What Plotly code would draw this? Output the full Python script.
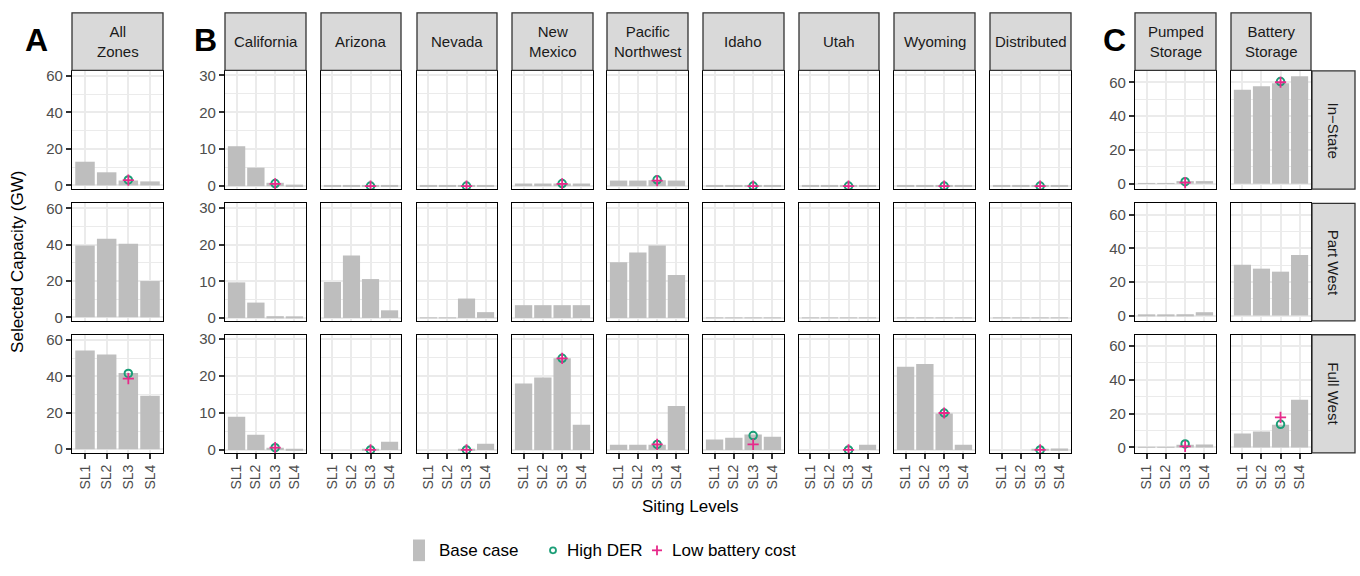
import plotly.graph_objects as go

# ---------------- data ----------------
levels = ["SL1", "SL2", "SL3", "SL4"]
panels = ["All Zones", "California", "Arizona", "Nevada", "New Mexico",
          "Pacific Northwest", "Idaho", "Utah", "Wyoming", "Distributed",
          "Pumped Storage", "Battery Storage"]
strip_labels = ["All<br>Zones", "California", "Arizona", "Nevada", "New<br>Mexico",
                "Pacific<br>Northwest", "Idaho", "Utah", "Wyoming", "Distributed",
                "Pumped<br>Storage", "Battery<br>Storage"]
row_labels = ["In−State", "Part West", "Full West"]
series_names = ["Base case", "High DER", "Low battery cost"]

instate_base = [
    [13.0, 7.2, 2.7, 2.2],
    [10.8, 5.0, 0.9, 0.4],
    [0.1, 0.1, 0.1, 0.1],
    [0.1, 0.1, 0.1, 0.1],
    [0.7, 0.7, 0.7, 0.7],
    [1.5, 1.5, 1.6, 1.5],
    [0.05, 0.05, 0.05, 0.05],
    [0.05, 0.05, 0.05, 0.05],
    [0.1, 0.1, 0.1, 0.1],
    [0.3, 0.3, 0.3, 0.3],
    [0.3, 0.3, 1.5, 1.5],
    [55.5, 57.7, 59.4, 63.5],
]
partwest_base = [
    [39.6, 43.3, 40.5, 20.0],
    [9.7, 4.2, 0.5, 0.3],
    [9.8, 17.0, 10.6, 2.1],
    [0.1, 0.1, 5.3, 1.6],
    [3.5, 3.5, 3.5, 3.5],
    [15.2, 17.8, 19.7, 11.7],
    [0.1, 0.1, 0.1, 0.1],
    [0.1, 0.1, 0.1, 0.1],
    [0.1, 0.1, 0.1, 0.1],
    [0.1, 0.1, 0.1, 0.1],
    [0.2, 0.2, 0.8, 2.0],
    [30.2, 27.9, 26.1, 36.0],
]
fullwest_base = [
    [54.2, 51.9, 41.8, 29.4],
    [9.0, 4.1, 0.6, 0.3],
    [0.0, 0.0, 0.1, 2.2],
    [0.0, 0.0, 0.1, 1.7],
    [18.0, 19.6, 24.8, 6.8],
    [1.4, 1.4, 1.4, 11.9],
    [2.8, 3.3, 4.2, 3.6],
    [0.0, 0.0, 0.0, 1.4],
    [22.5, 23.3, 9.9, 1.4],
    [0.0, 0.0, 0.3, 0.4],
    [0.2, 0.2, 1.6, 1.8],
    [8.2, 9.4, 13.5, 28.2],
]
instate_high_der = [3.0, 0.7, 0.0, 0.0, 0.7, 1.7, 0.0, 0.0, 0.0, 0.0, 1.2, 60.4]
instate_low_batt = [2.9, 0.6, 0.0, 0.0, 0.6, 1.5, 0.0, 0.0, 0.0, 0.0, 0.6, 60.0]
fullwest_high_der = [41.6, 0.6, 0.0, 0.0, 24.8, 1.5, 3.9, 0.0, 10.0, 0.0, 2.1, 13.7]
fullwest_low_batt = [38.7, 0.6, 0.0, 0.0, 24.8, 1.5, 1.5, 0.0, 10.0, 0.0, 0.6, 17.8]

base_rows = [instate_base, partwest_base, fullwest_base]
der_rows = [instate_high_der, None, fullwest_high_der]
batt_rows = [instate_low_batt, None, fullwest_low_batt]

# ---------------- layout geometry (pixels) ----------------
W, H = 1360, 576
col_px = [(72, 163), (225, 306), (321, 401), (417, 497), (512, 593), (607, 688),
          (703, 784), (799, 879), (894, 975), (990, 1071), (1135, 1216), (1231, 1311)]
row_px = [(68, 188), (202.5, 322), (336, 456)]
strip_y = (9, 67.5)
rstrip_x = (1312, 1355)

GRID = "#EBEBEB"
BAR = "#BEBEBE"
GREEN = "#1B9E77"
PINK = "#E7298A"
FONT = "Liberation Sans, Arial, sans-serif"
TICKC = "#4D4D4D"

def fx(p):
    return p / W

def fy(p):
    return 1 - p / H

fig = go.Figure()
layout = {}
label_cols = {0, 1, 10}

for r in range(3):
    for c in range(12):
        n = r * 12 + c + 1
        xa = "x" if n == 1 else f"x{n}"
        ya = "y" if n == 1 else f"y{n}"
        xk = "xaxis" if n == 1 else f"xaxis{n}"
        yk = "yaxis" if n == 1 else f"yaxis{n}"
        fig.add_trace(go.Bar(
            x=levels, y=base_rows[r][c], xaxis=xa, yaxis=ya,
            marker=dict(color=BAR, line=dict(width=0)), width=0.9,
            name=series_names[0], showlegend=False,
        ))
        if der_rows[r] is not None:
            fig.add_trace(go.Scatter(
                x=["SL3"], y=[der_rows[r][c]], xaxis=xa, yaxis=ya, mode="markers",
                marker=dict(symbol="circle-open", color=GREEN, size=7.5, line=dict(width=2, color=GREEN)),
                name=series_names[1], showlegend=False,
            ))
            fig.add_trace(go.Scatter(
                x=["SL3"], y=[batt_rows[r][c]], xaxis=xa, yaxis=ya, mode="markers",
                marker=dict(symbol="cross-thin-open", color=PINK, size=8, line=dict(width=1.8, color=PINK)),
                name=series_names[2], showlegend=False,
            ))
        x0, x1 = col_px[c]
        y0, y1 = row_px[r]
        bottom = (r == 2)
        layout[xk] = dict(
            domain=[fx(x0), fx(x1)], anchor=ya, type="category",
            categoryorder="array", categoryarray=levels, range=[-0.6, 3.6],
            showgrid=True, gridcolor=GRID, gridwidth=2, zeroline=False,
            showline=True, mirror=True, linecolor="black", linewidth=1.3,
            ticks="outside" if bottom else "", ticklen=5, tickwidth=1.5, tickcolor="#333333",
            showticklabels=bottom, tickangle=-90,
            tickfont=dict(family=FONT, size=14, color=TICKC), fixedrange=True,
        )
        if c == 0 or c >= 10:
            yr, dt, mdt = [-2.0, 62.8], 20, 10
            if c >= 10:
                yr = [-3.2, 66.7]
        else:
            yr, dt, mdt = [-0.8, 31.2], 10, 5
        lab = c in label_cols
        layout[yk] = dict(
            domain=[fy(y1), fy(y0)], anchor=xa, range=yr,
            tick0=0, dtick=dt, showgrid=True, gridcolor=GRID, gridwidth=2,
            minor=dict(dtick=mdt, tick0=0, showgrid=True, gridcolor=GRID, gridwidth=1),
            zeroline=False, showline=True, mirror=True, linecolor="black", linewidth=1.3,
            ticks="outside" if lab else "", ticklen=5, tickwidth=1.5, tickcolor="#333333",
            showticklabels=lab, tickfont=dict(family=FONT, size=15, color=TICKC),
            fixedrange=True,
        )

shapes = []
annotations = []
# column strips
for c in range(12):
    x0, x1 = col_px[c]
    shapes.append(dict(type="rect", xref="paper", yref="paper",
                       x0=fx(x0), x1=fx(x1), y0=fy(strip_y[1]), y1=fy(strip_y[0]),
                       fillcolor="#D9D9D9", line=dict(color="#333333", width=1.3), layer="above"))
    annotations.append(dict(text=strip_labels[c], xref="paper", yref="paper",
                            x=fx((x0 + x1) / 2), y=fy((strip_y[0] + strip_y[1]) / 2),
                            xanchor="center", yanchor="middle", showarrow=False,
                            font=dict(family=FONT, size=15, color="#1A1A1A")))
# row strips
for r in range(3):
    y0, y1 = row_px[r]
    shapes.append(dict(type="rect", xref="paper", yref="paper",
                       x0=fx(rstrip_x[0]), x1=fx(rstrip_x[1]), y0=fy(y1), y1=fy(y0),
                       fillcolor="#D9D9D9", line=dict(color="#333333", width=1.3), layer="above"))
    annotations.append(dict(text=row_labels[r], xref="paper", yref="paper",
                            x=fx((rstrip_x[0] + rstrip_x[1]) / 2), y=fy((y0 + y1) / 2),
                            xanchor="center", yanchor="middle", showarrow=False, textangle=90,
                            font=dict(family=FONT, size=15, color="#1A1A1A")))
# panel tags
for txt, px in [("A", 36), ("B", 205), ("C", 1114)]:
    annotations.append(dict(text=f"<b>{txt}</b>", xref="paper", yref="paper",
                            x=fx(px), y=fy(37), xanchor="center", yanchor="middle",
                            showarrow=False, font=dict(family=FONT, size=32, color="black")))
# axis titles
annotations.append(dict(text="Selected Capacity (GW)", xref="paper", yref="paper",
                        x=fx(18), y=fy(262), xanchor="center", yanchor="middle",
                        textangle=-90, showarrow=False,
                        font=dict(family=FONT, size=17, color="black")))
annotations.append(dict(text="Siting Levels", xref="paper", yref="paper",
                        x=fx(690), y=fy(510), xanchor="center", yanchor="middle",
                        showarrow=False, font=dict(family=FONT, size=17, color="black")))

# ---------------- legend (keys drawn as shapes) ----------------
LY = 555
shapes.append(dict(type="rect", xref="paper", yref="paper",
                   x0=fx(413), x1=fx(425), y0=fy(LY + 11), y1=fy(LY - 11),
                   fillcolor=BAR, line=dict(width=0)))
shapes.append(dict(type="circle", xref="paper", yref="paper",
                   x0=fx(550), x1=fx(556), y0=fy(LY + 3), y1=fy(LY - 3),
                   fillcolor="rgba(0,0,0,0)", line=dict(color=GREEN, width=1.8)))
shapes.append(dict(type="line", xref="paper", yref="paper",
                   x0=fx(652), x1=fx(662), y0=fy(LY), y1=fy(LY),
                   line=dict(color=PINK, width=1.8)))
shapes.append(dict(type="line", xref="paper", yref="paper",
                   x0=fx(657), x1=fx(657), y0=fy(LY + 5), y1=fy(LY - 5),
                   line=dict(color=PINK, width=1.8)))
for txt, px in [(series_names[0], 437), (series_names[1], 565), (series_names[2], 670)]:
    annotations.append(dict(text=txt, xref="paper", yref="paper",
                            x=fx(px), y=fy(LY), xanchor="left", yanchor="middle",
                            showarrow=False, font=dict(family=FONT, size=17, color="black")))

fig.update_layout(
    width=W, height=H, margin=dict(l=0, r=0, t=0, b=0),
    paper_bgcolor="white", plot_bgcolor="white",
    barmode="overlay", shapes=shapes, annotations=annotations,
    showlegend=False,
    font=dict(family=FONT),
    **layout,
)

fig.write_html("out.html")
